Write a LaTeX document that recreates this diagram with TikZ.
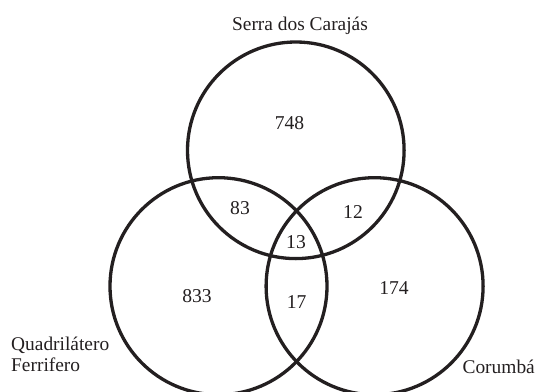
\documentclass[tikz,border=0pt]{standalone}
\usepackage{fontspec}
\setmainfont{Liberation Serif}
\definecolor{ink}{HTML}{231F20}
\begin{document}
\begin{tikzpicture}[x=1pt,y=-1pt,
  setcircle/.style={draw=ink,line width=3.3pt},
  lbl/.style={inner sep=0pt,text=ink,font=\fontsize{19.4}{22}\selectfont},
  num/.style={inner sep=0pt,text=ink,font=\fontsize{19.6}{22}\selectfont}]
\useasboundingbox (0,0) rectangle (537,391);
\clip (0,0) rectangle (537,391);
\coordinate (cT) at (295.8,150.3);
\coordinate (cL) at (218.5,286.2);
\coordinate (cR) at (374.6,286.2);
\draw[setcircle] (cT) circle[radius=108.3];
\draw[setcircle] (cL) circle[radius=108.5];
\draw[setcircle] (cR) circle[radius=108.5];
\node[lbl,anchor=base] (serra) at (300,30.7) {Serra dos Carajás};
\node[lbl,anchor=base west] (quad) at (11,350) {Quadrilátero};
\node[lbl,anchor=base west] (ferr) at (11,371.7) {Ferrifero};
\node[lbl,anchor=base east] (coru) at (535,373) {Corumbá};
\node[num] (n748) at (289.5,122.7) {748};
\node[num] (n83) at (240,208.3) {83};
\node[num] (n12) at (353,211.7) {12};
\node[num] (n13) at (296,242) {13};
\node[num] (n833) at (197,296.3) {833};
\node[num] (n17) at (296.6,301.7) {17};
\node[num] (n174) at (394,288.3) {174};
\end{tikzpicture}
\end{document}
